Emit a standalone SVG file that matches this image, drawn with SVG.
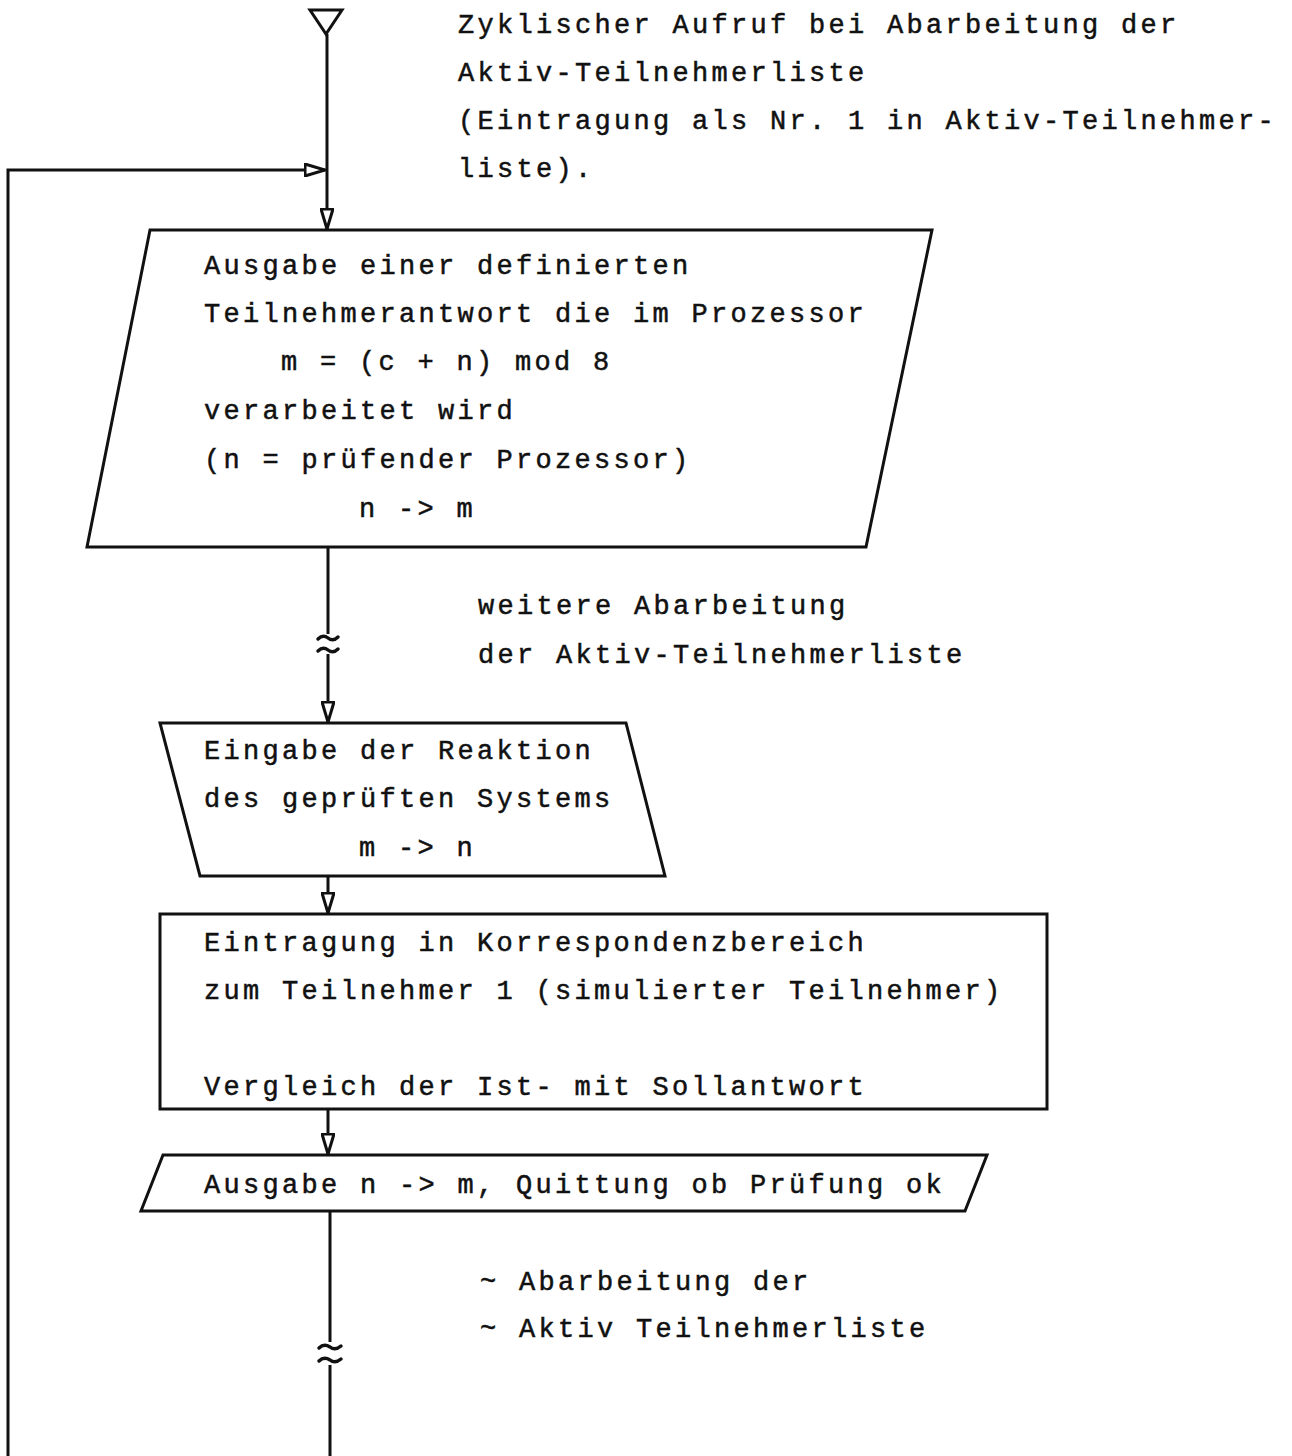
<svg xmlns="http://www.w3.org/2000/svg" width="1292" height="1456" viewBox="0 0 1292 1456">
<defs>
<style>
text{font-family:"Liberation Mono","DejaVu Sans Mono",monospace;font-size:27px;letter-spacing:3.3px;fill:#111;stroke:#111;stroke-width:0.5px;}
.sh{fill:none;stroke:#111;stroke-width:3;}
.ln{fill:none;stroke:#111;stroke-width:3;}
.tl{fill:none;stroke:#111;stroke-width:3.5;stroke-linecap:round;}
</style>
<marker id="ah" viewBox="0 0 22 14" refX="21" refY="7" markerWidth="22" markerHeight="14" markerUnits="userSpaceOnUse" orient="auto">
<path d="M1,1 L21,7 L1,13 Z" fill="#fff" stroke="#111" stroke-width="3" stroke-linejoin="miter"/>
</marker>
</defs>
<rect width="1292" height="1456" fill="#fff"/>

<g id="connectors">
<line class="ln" x1="327" y1="34" x2="327" y2="229" marker-end="url(#ah)"/>
<polyline class="ln" points="8,1456 8,170 325,170" marker-end="url(#ah)"/>
<line class="ln" x1="328" y1="547" x2="328" y2="634"/>
<line class="ln" x1="328" y1="654" x2="328" y2="722" marker-end="url(#ah)"/>
<path class="tl" d="M318,639 q5,-5 10,-1 q5,4 10,-1"/>
<path class="tl" d="M318,651 q5,-5 10,-1 q5,4 10,-1"/>
<line class="ln" x1="328" y1="876" x2="328" y2="913" marker-end="url(#ah)"/>
<line class="ln" x1="328" y1="1109" x2="328" y2="1154" marker-end="url(#ah)"/>
<line class="ln" x1="330" y1="1212" x2="330" y2="1342"/>
<line class="ln" x1="330" y1="1365" x2="330" y2="1456"/>
<path class="tl" d="M319,1348 q5,-5 11,-1 q5,4 11,-1"/>
<path class="tl" d="M319,1361 q5,-5 11,-1 q5,4 11,-1"/>
</g>

<g id="start">
<path class="sh" d="M310,10 L342,10 L326,34 Z"/>
<text x="458" y="33">Zyklischer Aufruf bei Abarbeitung der</text>
<text x="458" y="81">Aktiv-Teilnehmerliste</text>
<text x="458" y="129">(Eintragung als Nr. 1 in Aktiv-Teilnehmer-</text>
<text x="458" y="177">liste).</text>
</g>

<g id="ausgabe1">
<path class="sh" d="M150,230 L932,230 L866,547 L87,547 Z"/>
<text x="204" y="274">Ausgabe einer definierten</text>
<text x="204" y="322">Teilnehmerantwort die im Prozessor</text>
<text x="281" y="370">m = (c + n) mod 8</text>
<text x="204" y="419">verarbeitet wird</text>
<text x="204" y="468">(n = prüfender Prozessor)</text>
<text x="359" y="517">n -&gt; m</text>
</g>

<g id="note1">
<text x="478" y="614">weitere Abarbeitung</text>
<text x="478" y="663">der Aktiv-Teilnehmerliste</text>
</g>

<g id="eingabe">
<path class="sh" d="M160,723 L626,723 L665,876 L200,876 Z"/>
<text x="204" y="759">Eingabe der Reaktion</text>
<text x="204" y="807">des geprüften Systems</text>
<text x="359" y="856">m -&gt; n</text>
</g>

<g id="eintragung">
<rect class="sh" x="160" y="914" width="887" height="195"/>
<text x="204" y="951">Eintragung in Korrespondenzbereich</text>
<text x="204" y="999">zum Teilnehmer 1 (simulierter Teilnehmer)</text>
<text x="204" y="1095">Vergleich der Ist- mit Sollantwort</text>
</g>

<g id="ausgabe2">
<path class="sh" d="M163,1155 L987,1155 L965,1211 L141,1211 Z"/>
<text x="204" y="1193">Ausgabe n -&gt; m, Quittung ob Prüfung ok</text>
</g>

<g id="note2">
<text x="480" y="1290">~ Abarbeitung der</text>
<text x="480" y="1337">~ Aktiv Teilnehmerliste</text>
</g>
</svg>
